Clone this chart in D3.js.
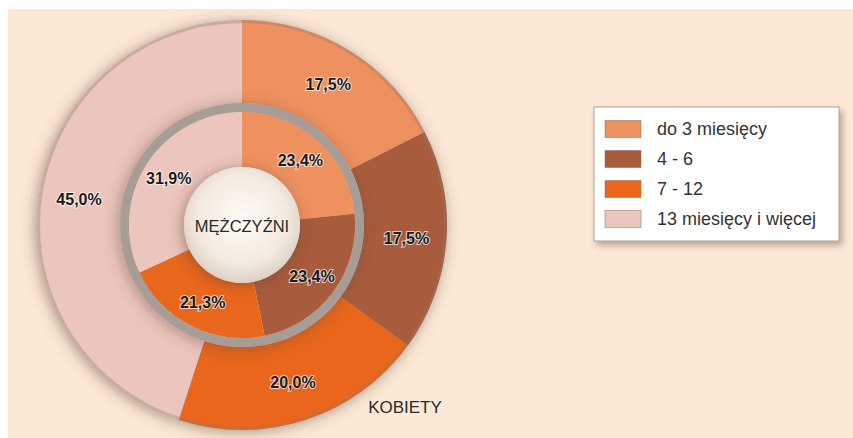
<!DOCTYPE html>
<html>
<head>
<meta charset="utf-8">
<script src="https://cdn.jsdelivr.net/npm/d3@7"></script>
<style>
  body { margin: 0; background: #ffffff; }
  svg { display: block; font-family: Arial, "Liberation Sans", sans-serif; }
</style>
</head>
<body>
<svg></svg>
<script>
// categories and values
const categories = ["do 3 miesięcy", "4 - 6", "7 - 12", "13 miesięcy i więcej"];
const colors = ["#ee915f", "#a85b3d", "#e9661d", "#ecc5bd"];
const kobiety = [17.5, 17.5, 20.0, 45.0];
const mezczyzni = [23.4, 23.4, 21.3, 31.9];

window.onload = function() {
    const W = 853, H = 438;
    const cx = 242, cy = 225;

    const svg = d3.select("svg")
        .attr("width", W)
        .attr("height", H);

    const defs = svg.append("defs");

    defs.append("filter")
        .attr("id", "shadow")
        .attr("x", "-20%").attr("y", "-20%")
        .attr("width", "140%").attr("height", "140%")
        .append("feDropShadow")
        .attr("dx", -2).attr("dy", 2)
        .attr("stdDeviation", 7)
        .attr("flood-color", "#5a4030")
        .attr("flood-opacity", 0.5);

    defs.append("filter")
        .attr("id", "boxShadow")
        .attr("x", "-10%").attr("y", "-10%")
        .attr("width", "130%").attr("height", "140%")
        .append("feDropShadow")
        .attr("dx", 3).attr("dy", 4)
        .attr("stdDeviation", 3)
        .attr("flood-color", "#6a5040")
        .attr("flood-opacity", 0.45);

    const grad = defs.append("radialGradient")
        .attr("id", "ball")
        .attr("cx", "50%").attr("cy", "45%").attr("r", "55%");
    grad.append("stop").attr("offset", "0%").attr("stop-color", "#fdfaf4");
    grad.append("stop").attr("offset", "70%").attr("stop-color", "#f3ebe1");
    grad.append("stop").attr("offset", "100%").attr("stop-color", "#ddd0c2");

    // background
    svg.append("rect")
        .attr("x", 8).attr("y", 9)
        .attr("width", W - 8).attr("height", H - 9)
        .attr("fill", "#fbe8d6");

    const pie = d3.pie().sort(null).value(d => d);

    const rOuter = 205, rOuterIn = 122, rInner = 113, rCenter = 58;

    const outerArc = d3.arc().innerRadius(rOuterIn).outerRadius(rOuter);
    const innerArc = d3.arc().innerRadius(rCenter).outerRadius(rInner);
    const outerLabel = d3.arc().innerRadius(165).outerRadius(165);
    const innerLabel = d3.arc().innerRadius(87).outerRadius(87);

    const g = svg.append("g").attr("transform", `translate(${cx},${cy})`);

    // outer ring (KOBIETY)
    const outerG = g.append("g").attr("filter", "url(#shadow)");
    outerG.selectAll("path")
        .data(pie(kobiety))
        .join("path")
        .attr("d", outerArc)
        .attr("fill", (d, i) => colors[i]);

    // soft rim on the outer edge
    g.append("circle")
        .attr("r", rOuter - 1.5)
        .attr("fill", "none")
        .attr("stroke", "#8a7a72")
        .attr("stroke-opacity", 0.35)
        .attr("stroke-width", 3);

    // grey ring around the inner pie
    g.append("circle")
        .attr("r", (rInner + rOuterIn) / 2)
        .attr("fill", "none")
        .attr("stroke", "#a89d96")
        .attr("stroke-width", rOuterIn - rInner)
        .attr("filter", "url(#shadow)");

    // inner ring (MĘŻCZYŹNI)
    g.append("g").selectAll("path")
        .data(pie(mezczyzni))
        .join("path")
        .attr("d", innerArc)
        .attr("fill", (d, i) => colors[i]);

    // centre ball
    g.append("circle")
        .attr("r", rCenter)
        .attr("fill", "url(#ball)")
        .attr("filter", "url(#shadow)");

    g.append("text")
        .attr("y", 7)
        .attr("text-anchor", "middle")
        .attr("font-size", 16.5)
        .attr("fill", "#2a2a2a")
        .text("MĘŻCZYŹNI");

    const fmt = v => v.toFixed(1).replace(".", ",") + "%";

    function labels(data, arcGen) {
        g.append("g").selectAll("text")
            .data(pie(data))
            .join("text")
            .attr("transform", d => `translate(${arcGen.centroid(d)})`)
            .attr("dy", "0.35em")
            .attr("text-anchor", "middle")
            .attr("font-size", 16)
            .attr("font-weight", "bold")
            .attr("fill", "#1a1a1a")
            .attr("stroke", "#ffffff")
            .attr("stroke-width", 2)
            .attr("stroke-opacity", 0.7)
            .attr("paint-order", "stroke")
            .text(d => fmt(d.data));
    }
    labels(kobiety, outerLabel);
    labels(mezczyzni, innerLabel);

    svg.append("text")
        .attr("x", 405).attr("y", 413)
        .attr("text-anchor", "middle")
        .attr("font-size", 17)
        .attr("fill", "#2a2a2a")
        .text("KOBIETY");

    // legend
    const legend = svg.append("g").attr("transform", "translate(594,107)");
    legend.append("rect")
        .attr("width", 245).attr("height", 134)
        .attr("fill", "#ffffff")
        .attr("stroke", "#a9a29c")
        .attr("stroke-width", 1)
        .attr("filter", "url(#boxShadow)");

    const rows = legend.selectAll("g.row")
        .data(categories)
        .join("g")
        .attr("class", "row")
        .attr("transform", (d, i) => `translate(11,${22 + i * 30})`);

    rows.append("rect")
        .attr("y", -8.5)
        .attr("width", 36).attr("height", 17)
        .attr("fill", (d, i) => colors[i])
        .attr("stroke", "#8a6a5a")
        .attr("stroke-opacity", 0.5);

    rows.append("text")
        .attr("x", 52)
        .attr("dy", "0.35em")
        .attr("font-size", 18)
        .attr("fill", "#333333")
        .text(d => d);
};
</script>
</body>
</html>
